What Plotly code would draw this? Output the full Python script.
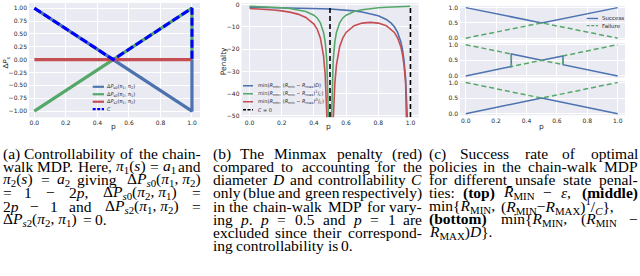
import re
import plotly.graph_objects as go

# ---------------- data ----------------
# (a) controllability of the chain-walk MDP
p_a = [0.0, 1.0, 1.0]
dps0_12 = [1.0, -1.0, 0.0]
dps0_21 = [-1.0, 1.0, 0.0]
p_a_s2 = [0.0, 1.0]
dps2_12 = [0.0, 0.0]
p_a_c = [0.0, 0.5, 1.0, 1.0]
ctrl_c = [1.0, 0.0, 1.0, 0.0]

# (b) penalties
p_diam = [0.0, 0.05, 0.1, 0.15, 0.2, 0.25, 0.3, 0.35, 0.4, 0.45, 0.5, 0.55, 0.6,
          0.65, 0.7, 0.75, 0.8, 0.85, 0.88, 0.9, 0.92, 0.94, 0.95, 0.96, 0.97, 0.98, 0.99]
pen_diam = [-1.15, -1.2, -1.25, -1.3, -1.36, -1.42, -1.5, -1.6, -1.72, -1.86, -2.0, -2.22, -2.5,
            -2.86, -3.33, -4.0, -5.0, -6.67, -8.33, -10.0, -12.5, -16.7, -20.0, -25.0, -33.3, -50.0, -100.0]
p_ctrl = [0.0, 0.05, 0.1, 0.15, 0.2, 0.25, 0.3, 0.35, 0.4, 0.42, 0.44, 0.46, 0.47, 0.48, 0.49, 0.495,
          0.505, 0.51, 0.52, 0.53, 0.54, 0.56, 0.58, 0.6, 0.65, 0.7, 0.75, 0.8, 0.85, 0.9, 0.95, 1.0]
pen_ctrl = [-0.75, -0.85, -1.0, -1.2, -1.45, -1.8, -2.3, -3.1, -4.8, -6.0, -8.2, -12.5, -16.7, -25.0, -50.0, -100.0,
            -100.0, -50.0, -25.0, -16.7, -12.5, -8.2, -6.0, -4.8, -3.1, -2.3, -1.8, -1.45, -1.2, -1.0, -0.85, -0.75]
p_minmax = [0.0, 0.05, 0.1, 0.15, 0.2, 0.25, 0.3, 0.35, 0.4, 0.42, 0.44, 0.46, 0.47, 0.48, 0.49,
            0.51, 0.52, 0.53, 0.54, 0.56, 0.58, 0.6, 0.65, 0.7, 0.75, 0.8, 0.85, 0.9, 0.92, 0.94,
            0.95, 0.96, 0.97, 0.98, 0.99]
pen_minmax = [-1.8, -1.95, -2.15, -2.45, -2.85, -3.4, -4.3, -5.8, -8.8, -11.0, -15.0, -23.1, -31.4, -48.1, -98.0,
              -102.0, -52.1, -35.5, -27.2, -18.9, -14.9, -12.5, -9.52, -8.33, -8.0, -8.33, -9.52, -12.5, -14.9, -18.9,
              -22.2, -27.2, -35.5, -52.1, -101.0]
c_zero_p = [0.5, 1.0]

# (c) success / failure rates
p_top = [0.0, 0.5, 1.0]
succ_top = [1.0, 0.5, 1.0]
fail_top = [0.0, 0.5, 0.0]
p_mid = [0.0, 0.3, 0.3, 0.5, 0.64, 0.64, 1.0]
succ_mid = [0.0, 0.3, 0.7, 0.5, 0.64, 0.36, 0.0]
fail_mid = [1.0, 0.7, 0.3, 0.5, 0.36, 0.64, 1.0]
p_bot = [0.0, 0.5, 1.0]
succ_bot = [0.0, 0.5, 0.0]
fail_bot = [1.0, 0.5, 1.0]

x_ticks = [0.0, 0.2, 0.4, 0.6, 0.8, 1.0]
x_tick_text = ["0.0", "0.2", "0.4", "0.6", "0.8", "1.0"]
ya_ticks = [-1.0, -0.75, -0.5, -0.25, 0.0, 0.25, 0.5, 0.75, 1.0]
ya_tick_text = ["\u22121.00", "\u22120.75", "\u22120.50", "\u22120.25", "0.00", "0.25", "0.50", "0.75", "1.00"]
yb_ticks = [-50, -40, -30, -20, -10, 0]
yb_tick_text = ["\u221250", "\u221240", "\u221230", "\u221220", "\u221210", "0"]
yc_ticks = [0.0, 0.5, 1.0]
yc_tick_text = ["0.0", "0.5", "1.0"]

# ---------------- style ----------------
W, H = 640, 276
def X(px): return px / W
def Y(py): return 1 - py / H

BLUE = '#4C72B0'; GREEN = '#55A868'; RED = '#C44E52'; PBLUE = '#0000FF'
TXT = '#262626'; BG = '#EAEAF2'
SANS = 'DejaVu Sans'; SERIF = 'Liberation Serif'

fig = go.Figure()

def line(x, y, ax, color, width, dash='solid'):
    fig.add_trace(go.Scatter(x=x, y=y, xaxis='x' + ax, yaxis='y' + ax, mode='lines',
                             line=dict(color=color, width=width, dash=dash),
                             showlegend=False, hoverinfo='skip'))

# (a)
line(p_a, dps0_12, '', BLUE, 3.2)
line(p_a, dps0_21, '', GREEN, 3.2)
line(p_a_s2, dps2_12, '', RED, 3.2)
line(p_a_c, ctrl_c, '', PBLUE, 3.0, '8px,3px')
# (b)
line(p_diam, pen_diam, '2', BLUE, 1.6)
line(p_ctrl, pen_ctrl, '2', GREEN, 1.6)
line(p_minmax, pen_minmax, '2', RED, 1.6)
vx, vy = [], []
for v in c_zero_p:
    vx += [v, v, None]; vy += [-50.5, -0.6, None]
line(vx, vy, '2', 'black', 1.6, '5px,3px')
# (c)
line(p_top, succ_top, '3', BLUE, 1.5)
line(p_top, fail_top, '3', GREEN, 1.5, '5px,3px')
line(p_mid, succ_mid, '4', BLUE, 1.5)
line(p_mid, fail_mid, '4', GREEN, 1.5, '5px,3px')
line(p_bot, succ_bot, '5', BLUE, 1.5)
line(p_bot, fail_bot, '5', GREEN, 1.5, '5px,3px')

def ax(**kw):
    d = dict(showgrid=True, gridcolor='white', gridwidth=1, zeroline=False, showline=False,
             ticks='', tickfont=dict(family=SANS, size=6, color=TXT), fixedrange=True,
             ticklabelstandoff=1)
    d.update(kw)
    return d

lay = dict(
    width=W, height=H, margin=dict(l=0, r=0, t=0, b=0),
    paper_bgcolor='white', plot_bgcolor=BG, showlegend=False,
    xaxis=ax(domain=[X(29), X(200)], range=[-0.034, 1.051], anchor='y',
             tickvals=x_ticks, ticktext=x_tick_text),
    yaxis=ax(domain=[Y(117), Y(1)], range=[-1.12, 1.1], anchor='x',
             tickvals=ya_ticks, ticktext=ya_tick_text),
    xaxis2=ax(domain=[X(241.5), X(418.5)], range=[-0.05, 1.05], anchor='y2',
              tickvals=x_ticks, ticktext=x_tick_text),
    yaxis2=ax(domain=[Y(117), Y(1)], range=[-50.6, 0.7], anchor='x2',
              tickvals=yb_ticks, ticktext=yb_tick_text),
)
c_dom = [X(460), X(625)]
c_rng = [-0.0375, 1.048]
for i, (top, bot) in zip([3, 4, 5], [(4.15, 38.25), (41.7, 76.6), (80.1, 114.9)]):
    lay['xaxis%d' % i] = ax(domain=c_dom, range=c_rng, anchor='y%d' % i,
                            tickvals=x_ticks, ticktext=x_tick_text, showticklabels=(i == 5))
    lay['yaxis%d' % i] = ax(domain=[Y(bot), Y(top)], range=[-0.05, 1.05], anchor='x%d' % i,
                            tickvals=yc_ticks, ticktext=yc_tick_text)
fig.update_layout(**lay)

def note(text, x, y, size, family=SANS, color=TXT, anchor='center', angle=0):
    fig.add_annotation(x=X(x), y=Y(y), xref='paper', yref='paper', text=text, showarrow=False,
                       xanchor=anchor, yanchor='middle', textangle=angle, borderpad=0,
                       font=dict(family=family, size=size, color=color))

# axis titles
note('p', 113, 126, 7.5)
note('\u0394<i>P</i><sub>s</sub>', 6.5, 62, 7, angle=-90)
note('p', 328, 126, 7.5)
note('Penalty', 223, 60, 7.5, angle=-90)
note('p', 541.7, 126, 7.5)

# legends (drawn keys)
def key(x0, x1, y, color, width, dash='solid'):
    fig.add_shape(type='line', xref='paper', yref='paper', x0=X(x0), x1=X(x1), y0=Y(y), y1=Y(y),
                  line=dict(color=color, width=width, dash=dash))

leg_a = [('\u0394<i>P</i><sub>s0</sub>(\u03c0<sub>1</sub>, \u03c0<sub>2</sub>)', BLUE, 'solid'),
         ('\u0394<i>P</i><sub>s0</sub>(\u03c0<sub>2</sub>, \u03c0<sub>1</sub>)', GREEN, 'solid'),
         ('\u0394<i>P</i><sub>s2</sub>(\u03c0<sub>1</sub>, \u03c0<sub>2</sub>)', RED, 'solid'),
         ('<i>C</i>', PBLUE, '3px,1.5px')]
for k, (t, c, d) in enumerate(leg_a):
    yy = 86 + 7.6 * k
    key(92.7, 104, yy, c, 2.2, d)
    note(t, 106, yy, 5, anchor='left')

Rm = '<i>R</i><sub>min</sub>'; RM = '<i>R</i><sub>max</sub>'
leg_b = [('min(%s, (%s \u2212 %s)<i>D</i>)' % (Rm, Rm, RM), BLUE, 'solid'),
         ('min(%s, (%s \u2212 %s)<sup>1</sup>/<sub><i>C</i></sub>)' % (Rm, Rm, RM), GREEN, 'solid'),
         ('min(%s, (%s \u2212 %s)<sup><i>D</i></sup>/<sub><i>C</i></sub>)' % (Rm, Rm, RM), RED, 'solid'),
         ('<i>C</i> = 0', 'black', '3px,1.5px')]
for k, (t, c, d) in enumerate(leg_b):
    yy = 85 + 8.1 * k
    key(243, 253, yy, c, 1.5, d)
    note(t, 256.5, yy, 5, anchor='left')

for k, (t, c, d) in enumerate([('Success', BLUE, 'solid'), ('Failure', GREEN, '3px,1.5px')]):
    yy = 16.7 + 7.3 * k
    key(586.7, 598, yy, c, 1.4, d)
    note(t, 601, yy, 5.5, anchor='left')

# ---------------- captions (justified) ----------------
TIMES = {' ': 250, '(': 333, ')': 333, ',': 250, '-': 333, '.': 250, '/': 278, ':': 278, '=': 564,
         '{': 480, '}': 480, '\u2212': 564, '\u0394': 612, '\u03c0': 580, '\u03b5': 460, '\u0304': 0,
         'A': 722, 'C': 667, 'D': 722, 'H': 722, 'I': 333, 'M': 889, 'N': 722, 'P': 611, 'R': 667,
         'S': 556, 'T': 611, 'X': 722,
         'a': 444, 'b': 500, 'c': 444, 'd': 500, 'e': 444, 'f': 333, 'g': 500, 'h': 500, 'i': 278,
         'j': 278, 'k': 500, 'l': 278, 'm': 778, 'n': 500, 'o': 500, 'p': 500, 'q': 500, 'r': 333,
         's': 389, 't': 278, 'u': 500, 'v': 500, 'w': 722, 'x': 500, 'y': 500, 'z': 444}

def est_w(markup, size):
    w, scale, bold, ital = 0.0, 1.0, False, False
    for tok in re.split(r'(<[^>]+>)', markup):
        if tok.startswith('<'):
            tag = tok.strip('<>/').lower()
            closing = tok.startswith('</')
            if tag in ('sub', 'sup'):
                scale = 1.0 if closing else 0.7
            elif tag == 'b':
                bold = not closing
            elif tag == 'i':
                ital = not closing
            continue
        for ch in tok:
            cw = TIMES.get(ch, 500)
            w += cw * scale * (1.1 if bold else 1.0) * (1.05 if ital else 1.0)
    return w / 1000.0 * size

CAP_SIZE = 15.5

def set_line(words, x0, x1, y, justify):
    ws = [est_w(t, CAP_SIZE) for t in words]
    if justify and len(words) > 1:
        gap = max(2.5, (x1 - x0 - sum(ws)) / (len(words) - 1))
    else:
        gap = 0.25 * CAP_SIZE
    x = x0
    for k, (t, w) in enumerate(zip(words, ws)):
        if k == 0:
            note(t, x0, y, CAP_SIZE, SERIF, 'black', 'left')
        elif justify and k == len(words) - 1:
            note(t, x1, y, CAP_SIZE, SERIF, 'black', 'right')
        else:
            note(t, x + w / 2, y, CAP_SIZE, SERIF, 'black', 'center')
        x += w + gap

pi1 = '<i>\u03c0</i><sub>1</sub>'; pi2 = '<i>\u03c0</i><sub>2</sub>'
dPs0 = '\u0394<i>P</i><sub><i>s</i>0</sub>'; dPs2 = '\u0394<i>P</i><sub><i>s</i>2</sub>'
RMIN = '<i>R</i><sub>MIN</sub>'; RMAX = '<i>R</i><sub>MAX</sub>'

cap_a = [
    ['(a)', 'Controllability', 'of', 'the', 'chain-'],
    ['walk', 'MDP.', 'Here,', '%s(<i>s</i>)' % pi1, '=', '<i>a</i><sub>1</sub>', 'and'],
    ['%s(<i>s</i>)' % pi2, '=', '<i>a</i><sub>2</sub>', 'giving', '%s(%s, %s)' % (dPs0, pi1, pi2)],
    ['=', '1', '\u2212', '2<i>p</i>,', '%s(%s, %s)' % (dPs0, pi2, pi1), '='],
    ['2<i>p</i>', '\u2212', '1', 'and', '%s(%s, %s)' % (dPs2, pi1, pi2), '='],
    ['%s(%s, %s)' % (dPs2, pi2, pi1), '=', '0.'],
]
cap_b = [
    ['(b)', 'The', 'Minmax', 'penalty', '(red)'],
    ['compared', 'to', 'accounting', 'for', 'the'],
    ['diameter', '<i>D</i>', 'and', 'controllability', '<i>C</i>'],
    ['only', '(blue', 'and', 'green', 'respectively)'],
    ['in', 'the', 'chain-walk', 'MDP', 'for', 'vary-'],
    ['ing', '<i>p</i>.', '<i>p</i>', '=', '0.5', 'and', '<i>p</i>', '=', '1', 'are'],
    ['excluded', 'since', 'their', 'correspond-'],
    ['ing', 'controllability', 'is', '0.'],
]
cap_c = [
    ['(c)', 'Success', 'rate', 'of', 'optimal'],
    ['policies', 'in', 'the', 'chain-walk', 'MDP'],
    ['for', 'different', 'unsafe', 'state', 'penal-'],
    ['ties:', '<b>(top)</b>', '<i>R\u0304</i><sub>MIN</sub>', '\u2212', '<i>\u03b5</i>,', '<b>(middle)</b>'],
    ['min{%s,' % RMIN, '(%s\u2212%s)<sup>1</sup>/<sub><i>C</i></sub>},' % (RMIN, RMAX)],
    ['<b>(bottom)</b>', 'min{%s,' % RMIN, '(%s' % RMIN, '\u2212'],
    ['%s)<i>D</i>}.' % RMAX],
]
for cap, x0, x1, last_natural in ((cap_a, 2, 201.5, {5}), (cap_b, 212, 423, {7}),
                                   (cap_c, 428, 638.5, {4, 6})):
    for i, words in enumerate(cap):
        set_line(words, x0, x1, 154 + 13.25 * i, i not in last_natural)

fig.write_html("out.html", config={'displayModeBar': False},
               post_script="document.documentElement.style.margin='0';"
                           "document.body.style.margin='0';document.body.style.padding='0';"
                           "document.body.style.overflow='hidden';")
